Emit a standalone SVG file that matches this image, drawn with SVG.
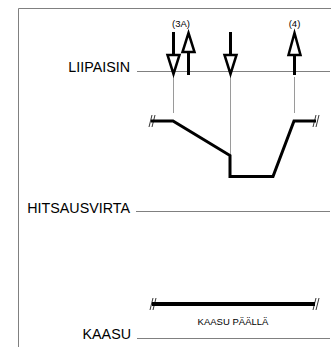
<svg xmlns="http://www.w3.org/2000/svg" width="336" height="347" viewBox="0 0 336 347">
<style>
.frame{fill:none;stroke:#808080;stroke-width:1}
.axis{fill:none;stroke:#808080;stroke-width:1}
.guide{fill:none;stroke:#9a9a9a;stroke-width:1}
.big{font-family:"Liberation Sans",Arial,sans-serif;font-size:14.3px;fill:#000}
.small{font-family:"Liberation Sans",Arial,sans-serif;font-size:9.5px;fill:#000}
.sig{fill:none;stroke:#000;stroke-width:3;stroke-linejoin:miter}
.arr{fill:#fff;stroke:#000;stroke-width:2.5;stroke-linejoin:miter}
.shaft{stroke:#000;stroke-width:3}
.brk{stroke:#000;stroke-width:0.8;fill:none}
</style>
<rect width="336" height="347" fill="#fff"/>
<g id="frame">
<path class="frame" d="M18.5,347 V8.5 H331"/>
</g>
<g id="liipaisin">
<text class="big" x="130" y="72" text-anchor="end">LIIPAISIN</text>
<line class="axis" x1="137" y1="71.5" x2="330" y2="71.5"/>
</g>
<g id="hitsausvirta">
<text class="big" x="130" y="212.5" text-anchor="end">HITSAUSVIRTA</text>
<line class="axis" x1="136" y1="211.5" x2="330" y2="211.5"/>
</g>
<g id="kaasu">
<text class="big" x="131" y="339" text-anchor="end">KAASU</text>
<line class="axis" x1="137" y1="338.5" x2="330" y2="338.5"/>
</g>
<g id="connectors">
<line class="guide" x1="173.5" y1="77" x2="173.5" y2="113"/>
<line class="guide" x1="230.5" y1="77" x2="230.5" y2="155"/>
<line class="guide" x1="294.5" y1="77" x2="294.5" y2="113"/>
</g>
<g id="arrow-3a-down">
<line class="shaft" x1="173.5" y1="32" x2="173.5" y2="56"/>
<polygon class="arr" points="167.5,55 179.5,55 173.5,74"/>
</g>
<g id="arrow-3a-up">
<line class="shaft" x1="188.5" y1="51" x2="188.5" y2="75"/>
<polygon class="arr" points="182.5,52 194.5,52 188.5,33"/>
</g>
<g id="label-3a">
<text class="small" x="181" y="27" text-anchor="middle">(3A)</text>
</g>
<g id="arrow-down-2">
<line class="shaft" x1="230.5" y1="32" x2="230.5" y2="56"/>
<polygon class="arr" points="224.5,55 236.5,55 230.5,74"/>
</g>
<g id="arrow-4-up">
<line class="shaft" x1="294.5" y1="54" x2="294.5" y2="75"/>
<polygon class="arr" points="288.5,55 300.5,55 294.5,33"/>
</g>
<g id="label-4">
<text class="small" x="294.5" y="27" text-anchor="middle">(4)</text>
</g>
<g id="current-signal">
<polyline class="sig" points="151,121 173,121 230,155.5 230,176.5 273,176.5 294,121 316,121"/>
<path class="brk" d="M149,127 L152,115 M152,127 L155,115"/>
<path class="brk" d="M313,127 L316,115 M316,127 L319,115"/>
</g>
<g id="gas-signal">
<line x1="152" y1="304" x2="315" y2="304" stroke="#000" stroke-width="4"/>
<path class="brk" d="M150,310 L153,298 M153,310 L156,298"/>
<path class="brk" d="M313,310 L316,298 M316,310 L319,298"/>
<text class="small" x="233" y="325" text-anchor="middle">KAASU PÄÄLLÄ</text>
</g>
</svg>
